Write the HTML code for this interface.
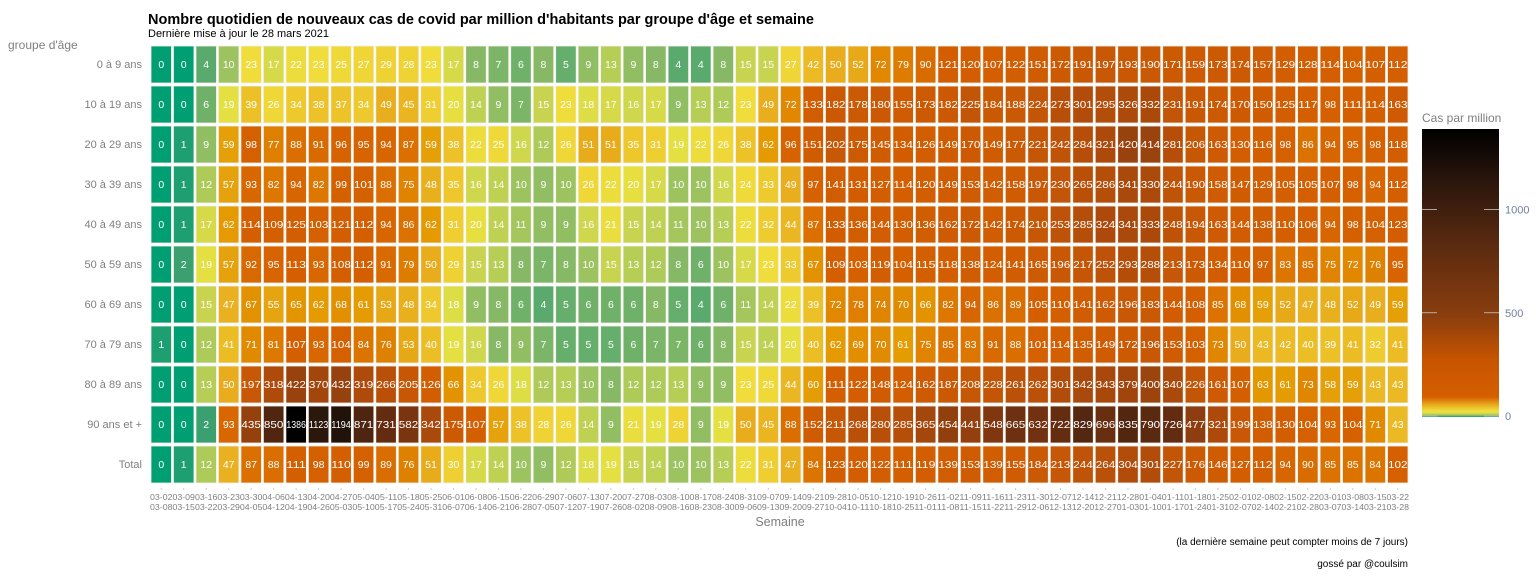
<!DOCTYPE html>
<html><head><meta charset="utf-8">
<style>
body{margin:0;background:#fff;width:1536px;height:576px;overflow:hidden;font-family:"Liberation Sans",sans-serif}
svg{display:block}
</style></head>
<body>
<svg id="chart" width="1536" height="576">
<defs>
<linearGradient id="cbgrad" x1="0" y1="1" x2="0" y2="0">
<stop offset="0" stop-color="#009e73"/>
<stop offset="0.004" stop-color="#7ab565"/>
<stop offset="0.012" stop-color="#d6d84c"/>
<stop offset="0.02" stop-color="#f0e040"/>
<stop offset="0.04" stop-color="#e9b020"/>
<stop offset="0.07" stop-color="#d55e00"/>
<stop offset="0.2" stop-color="#c65400"/>
<stop offset="0.35" stop-color="#8a3e0e"/>
<stop offset="0.6" stop-color="#5a2a10"/>
<stop offset="0.82" stop-color="#2a160c"/>
<stop offset="1" stop-color="#000"/>
</linearGradient>
</defs>
<text x="148" y="24" font-size="14.5" font-weight="bold" fill="#000">Nombre quotidien de nouveaux cas de covid par million d'habitants par groupe d'âge et semaine</text>
<text x="148" y="37" font-size="11" fill="#000">Dernière mise à jour le 28 mars 2021</text>
<text x="8" y="49" font-size="12" fill="#7f7f7f">groupe d'âge</text>
<text x="780" y="526" font-size="12.5" fill="#7f7f7f" text-anchor="middle">Semaine</text>
<text x="1408" y="545" font-size="10" fill="#000" text-anchor="end">(la dernière semaine peut compter moins de 7 jours)</text>
<text x="1408" y="567" font-size="10" fill="#000" text-anchor="end">gossé par @coulsim</text>
<g id="cells"></g>
<g id="ylabels"></g>
<g id="xlabels"></g>
<g>
<text x="1422" y="122" font-size="12" fill="#7f7f7f">Cas par million</text>
<rect x="1422" y="129" width="77" height="288" fill="url(#cbgrad)"/>
<g id="cbticks"></g>
</g>
</svg>
<script>
const groups=["0 à 9 ans","10 à 19 ans","20 à 29 ans","30 à 39 ans","40 à 49 ans","50 à 59 ans","60 à 69 ans","70 à 79 ans","80 à 89 ans","90 ans et +","Total"];
const r0=[0,0,4,10,23,17,22,23,25,27,29,28,23,17,8,7,6,8,5,9,13,9,8,4,4,8,15,15,27,42,50,52,72,79,90,121,120,107,122,151,172,191,197,193,190,171,159,173,174,157,129,128,114,104,107,112];
const r1=[0,0,6,19,39,26,34,38,37,34,49,45,31,20,14,9,7,15,23,18,17,16,17,9,13,12,23,49,72,133,182,178,180,155,173,182,225,184,188,224,273,301,295,326,332,231,191,174,170,150,125,117,98,111,114,163];
const r2=[0,1,9,59,98,77,88,91,96,95,94,87,59,38,22,25,16,12,26,51,51,35,31,19,22,26,38,62,96,151,202,175,145,134,126,149,170,149,177,221,242,284,321,420,414,281,206,163,130,116,98,86,94,95,98,118];
const r3=[0,1,12,57,93,82,94,82,99,101,88,75,48,35,16,14,10,9,10,26,22,20,17,10,10,16,24,33,49,97,141,131,127,114,120,149,153,142,158,197,230,265,286,341,330,244,190,158,147,129,105,105,107,98,94,112];
const r4=[0,1,17,62,114,109,125,103,121,112,94,86,62,31,20,14,11,9,9,16,21,15,14,11,10,13,22,32,44,87,133,136,144,130,136,162,172,142,174,210,253,285,324,341,333,248,194,163,144,138,110,106,94,98,104,123];
const r5=[0,2,19,57,92,95,113,93,108,112,91,79,50,29,15,13,8,7,8,10,15,13,12,8,6,10,17,23,33,67,109,103,119,104,115,118,138,124,141,165,196,217,252,293,288,213,173,134,110,97,83,85,75,72,76,95];
const r6=[0,0,15,47,67,55,65,62,68,61,53,48,34,18,9,8,6,4,5,6,6,6,8,5,4,6,11,14,22,39,72,78,74,70,66,82,94,86,89,105,110,141,162,196,183,144,108,85,68,59,52,47,48,52,49,59];
const r7=[1,0,12,41,71,81,107,93,104,84,76,53,40,19,16,8,9,7,5,5,5,6,7,7,6,8,15,14,20,40,62,69,70,61,75,85,83,91,88,101,114,135,149,172,196,153,103,73,50,43,42,40,39,41,32,41];
const r8=[0,0,13,50,197,318,422,370,432,319,266,205,126,66,34,26,18,12,13,10,8,12,12,13,9,9,23,25,44,60,111,122,148,124,162,187,208,228,261,262,301,342,343,379,400,340,226,161,107,63,61,73,58,59,43,43];
const r9=[0,0,2,93,435,850,1386,1123,1194,871,731,582,342,175,107,57,38,28,26,14,9,21,19,28,9,19,50,45,88,152,211,268,280,285,365,454,441,548,665,632,722,829,696,835,790,726,477,321,199,138,130,104,93,104,71,43];
const r10=[0,1,12,47,87,88,111,98,110,99,89,76,51,30,17,14,10,9,12,18,19,15,14,10,10,13,22,31,47,84,123,120,122,111,119,139,153,139,155,184,213,244,264,304,301,227,176,146,127,112,94,90,85,85,84,102];
const rows=[r0,r1,r2,r3,r4,r5,r6,r7,r8,r9,r10];
const legendTicks=[0,500,1000];
const firstWeek="2020-03-02";

const X0=150,X1=1409,Y0=45,RH=40;
const nCols=r0.length;
const CW=(X1-X0)/nCols;
const xPos=i=>X0+i*CW;
const yPos=j=>Y0+j*RH;
const stops=[[0,[0,158,115]],[2,[58,160,112]],[4,[90,170,110]],[8,[134,184,101]],[10,[156,195,95]],[15,[200,212,80]],[19,[228,224,66]],[23,[240,220,58]],[30,[238,208,50]],[40,[236,190,38]],[50,[232,172,28]],[62,[228,154,0]],[80,[222,122,0]],[98,[213,96,0]],[150,[208,92,2]],[220,[196,86,6]],[300,[178,76,10]],[420,[152,66,14]],[580,[122,52,16]],[850,[80,38,16]],[1150,[40,22,12]],[1386,[0,0,0]]];
function color(v){
  for(let k=1;k<stops.length;k++){
    if(v<=stops[k][0]){const a=stops[k-1],b=stops[k];const t=(v-a[0])/(b[0]-a[0]);
      const c=a[1].map((x,i)=>Math.round(x+(b[1][i]-x)*t));return `rgb(${c})`;}
  }
  return "rgb(0,0,0)";
}
const NS="http://www.w3.org/2000/svg";
const cells=document.getElementById('cells');
rows.forEach((row,j)=>{
  row.forEach((v,i)=>{
    const r=document.createElementNS(NS,'rect');
    r.setAttribute('x',xPos(i)+1);r.setAttribute('y',yPos(j)+1);
    r.setAttribute('width',CW-2);r.setAttribute('height',RH-3);
    r.setAttribute('fill',color(v));r.setAttribute('stroke','#f4f0e8');r.setAttribute('stroke-width','0.8');
    
    
    cells.appendChild(r);
    const t=document.createElementNS(NS,'text');
    t.setAttribute('x',xPos(i)+CW/2);t.setAttribute('y',yPos(j)+RH/2+3);
    t.setAttribute('text-anchor','middle');t.setAttribute('font-size','10.5');
    t.setAttribute('fill','#fff');
    if(v>=100){t.setAttribute('textLength',CW-3);t.setAttribute('lengthAdjust','spacingAndGlyphs');}
    t.textContent=v;
    
    
    cells.appendChild(t);
  });
});
const yl=document.getElementById('ylabels');
groups.forEach((g,j)=>{
  const t=document.createElementNS(NS,'text');
  t.setAttribute('x',142);t.setAttribute('y',yPos(j)+RH/2+3);
  t.setAttribute('text-anchor','end');t.setAttribute('font-size','11');t.setAttribute('fill','#7f7f7f');
  t.textContent=g;
  
  
  yl.appendChild(t);
});
const xl=document.getElementById('xlabels');
const d0=new Date(firstWeek+"T12:00:00Z");
const fmt=d=>String(d.getUTCMonth()+1).padStart(2,'0')+'-'+String(d.getUTCDate()).padStart(2,'0');
for(let i=0;i<nCols;i++){
  const s=new Date(d0.getTime()+i*7*864e5), e=new Date(s.getTime()+6*864e5);
  const cx=xPos(i)+CW/2;
  const tk=document.createElementNS(NS,'line');
  tk.setAttribute('x1',cx);tk.setAttribute('x2',cx);tk.setAttribute('y1',488);tk.setAttribute('y2',490);
  tk.setAttribute('stroke','#ccc');
  
  
  xl.appendChild(tk);
  [[fmt(s),500],[fmt(e),510]].forEach(([txt,y])=>{
    const t=document.createElementNS(NS,'text');
    t.setAttribute('x',cx);t.setAttribute('y',y);t.setAttribute('text-anchor','middle');
    t.setAttribute('font-size','8.5');t.setAttribute('fill','#7f7f7f');
    t.setAttribute('textLength',CW);t.setAttribute('lengthAdjust','spacingAndGlyphs');
    t.textContent=txt;
    
    
    xl.appendChild(t);
  });
}
const cb=document.getElementById('cbticks');
const cbY=v=>416-v*(287/1390);
legendTicks.forEach(v=>{
  const y=cbY(v);
  [[1422,1437],[1484,1499]].forEach(([a,b])=>{
    const l=document.createElementNS(NS,'line');
    l.setAttribute('x1',a);l.setAttribute('x2',b);l.setAttribute('y1',y);l.setAttribute('y2',y);
    l.setAttribute('stroke','#c8c8c8');l.setAttribute('stroke-width','0.8');
    
    
    cb.appendChild(l);
  });
  const t=document.createElementNS(NS,'text');
  t.setAttribute('x',1505);t.setAttribute('y',y+4);t.setAttribute('font-size','11');t.setAttribute('fill','#6f7fa0');
  t.textContent=v;
  
  
  cb.appendChild(t);
});
</script>
</body></html>
